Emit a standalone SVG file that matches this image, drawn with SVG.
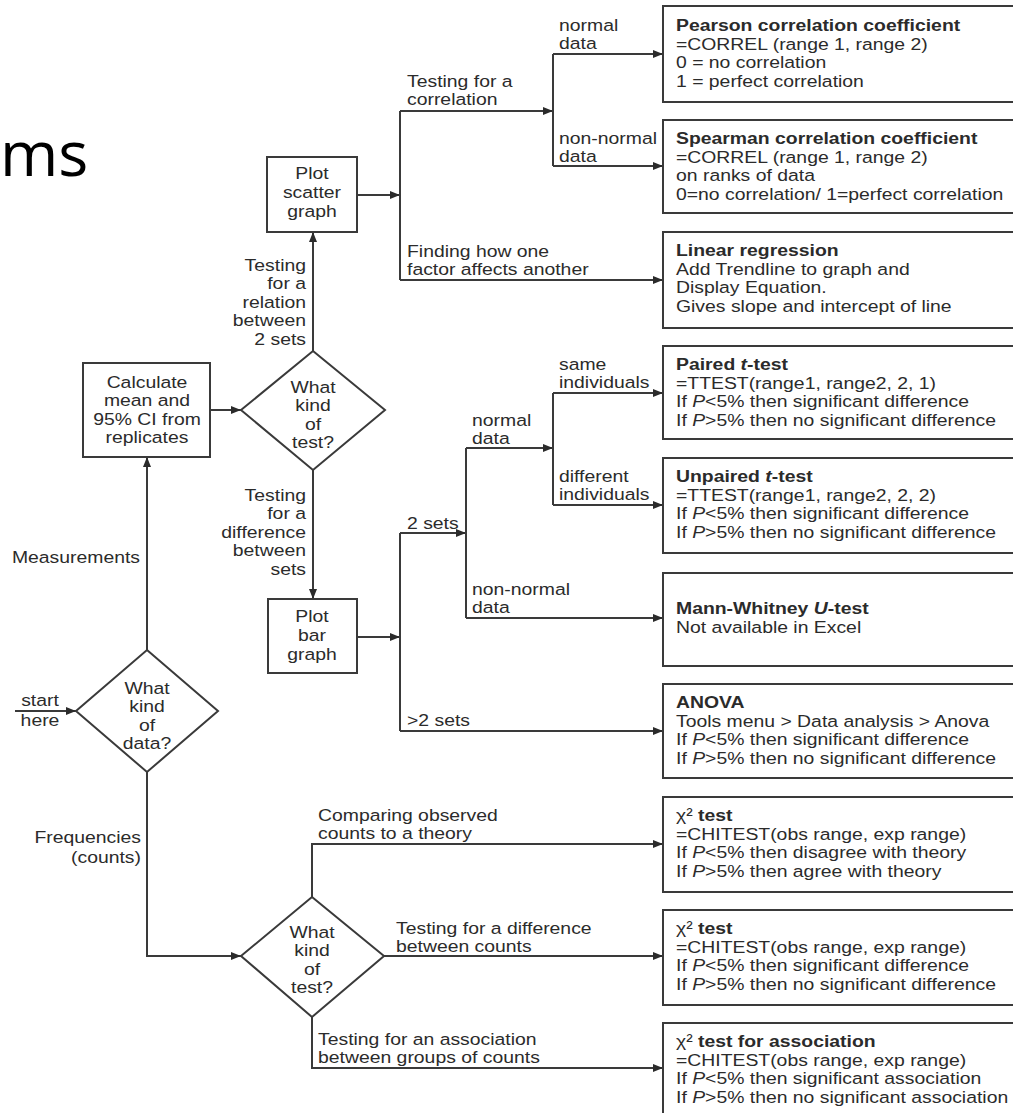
<svg xmlns="http://www.w3.org/2000/svg" width="1013" height="1113" viewBox="0 0 1013 1113">
<style>
.t{font-family:"Liberation Sans",Arial,sans-serif;font-size:17px;fill:#2b2b2b}
.b{font-weight:bold}
.c{text-anchor:middle}
.e{text-anchor:end}
.box{fill:#fff;stroke:#3a3a3a;stroke-width:2}
.ln{fill:none;stroke:#3a3a3a;stroke-width:2}
.ar{fill:none;stroke:#3a3a3a;stroke-width:2;marker-end:url(#ah)}
.title{font-family:"Open Sans","Noto Sans",sans-serif;font-size:63px;fill:#000}
</style>
<defs>
<marker id="ah" markerUnits="userSpaceOnUse" markerWidth="11" markerHeight="8" refX="10" refY="4" orient="auto">
<path d="M0,0 L10,4 L0,8 Z" fill="#2b2b2b"/>
</marker>
</defs>
<rect width="1013" height="1113" fill="#fff"/>
<text class="title" x="0" y="176">ms</text>

<g id="connectors">
<path class="ar" d="M15,711 H76"/>
<path class="ar" d="M147,650 V457"/>
<path class="ar" d="M210,410 H241"/>
<path class="ar" d="M313,351 V232"/>
<path class="ar" d="M313,470 V599"/>
<path class="ar" d="M357,195 H400"/>
<path class="ln" d="M400,111 V280"/>
<path class="ar" d="M400,111 H553"/>
<path class="ln" d="M553,54 V166"/>
<path class="ar" d="M553,54 H663"/>
<path class="ar" d="M553,166 H663"/>
<path class="ar" d="M400,280 H663"/>
<path class="ar" d="M357,637 H400"/>
<path class="ln" d="M400,533 V731"/>
<path class="ar" d="M400,533 H466"/>
<path class="ln" d="M466,448 V618"/>
<path class="ar" d="M466,448 H553"/>
<path class="ln" d="M553,393 V505"/>
<path class="ar" d="M553,393 H663"/>
<path class="ar" d="M553,505 H663"/>
<path class="ar" d="M466,618 H663"/>
<path class="ar" d="M400,731 H663"/>
<path class="ar" d="M147,772 V956 H241"/>
<path class="ar" d="M312,897 V844 H663"/>
<path class="ar" d="M384,956 H663"/>
<path class="ar" d="M312,1017 V1068 H663"/>

<text class="t c" transform="translate(40,706) scale(1.14,1)"><tspan x="0">start</tspan><tspan x="0" dy="20">here</tspan></text>
<text class="t e" transform="translate(140,563) scale(1.14,1)">Measurements</text>
<text class="t e" transform="translate(141,843) scale(1.14,1)"><tspan x="0">Frequencies</tspan><tspan x="0" dy="20">(counts)</tspan></text>
<text class="t e" transform="translate(306,271) scale(1.14,1)"><tspan x="0">Testing</tspan><tspan x="0" dy="18.5">for a</tspan><tspan x="0" dy="18.5">relation</tspan><tspan x="0" dy="18.5">between</tspan><tspan x="0" dy="18.5">2 sets</tspan></text>
<text class="t e" transform="translate(306,501) scale(1.14,1)"><tspan x="0">Testing</tspan><tspan x="0" dy="18.5">for a</tspan><tspan x="0" dy="18.5">difference</tspan><tspan x="0" dy="18.5">between</tspan><tspan x="0" dy="18.5">sets</tspan></text>
<text class="t" transform="translate(407,87) scale(1.14,1)"><tspan x="0">Testing for a</tspan><tspan x="0" dy="18.5">correlation</tspan></text>
<text class="t" transform="translate(559,31) scale(1.14,1)"><tspan x="0">normal</tspan><tspan x="0" dy="18.5">data</tspan></text>
<text class="t" transform="translate(559,144) scale(1.14,1)"><tspan x="0">non-normal</tspan><tspan x="0" dy="18.5">data</tspan></text>
<text class="t" transform="translate(407,257) scale(1.14,1)"><tspan x="0">Finding how one</tspan><tspan x="0" dy="18.5">factor affects another</tspan></text>
<text class="t" transform="translate(559,370) scale(1.14,1)"><tspan x="0">same</tspan><tspan x="0" dy="18.5">individuals</tspan></text>
<text class="t" transform="translate(472,426) scale(1.14,1)"><tspan x="0">normal</tspan><tspan x="0" dy="18.5">data</tspan></text>
<text class="t" transform="translate(559,482) scale(1.14,1)"><tspan x="0">different</tspan><tspan x="0" dy="18.5">individuals</tspan></text>
<text class="t" transform="translate(407,529) scale(1.14,1)">2 sets</text>
<text class="t" transform="translate(472,595) scale(1.14,1)"><tspan x="0">non-normal</tspan><tspan x="0" dy="18.5">data</tspan></text>
<text class="t" transform="translate(407,726) scale(1.14,1)">&gt;2 sets</text>
<text class="t" transform="translate(318,821) scale(1.14,1)"><tspan x="0">Comparing observed</tspan><tspan x="0" dy="18.5">counts to a theory</tspan></text>
<text class="t" transform="translate(396,934) scale(1.14,1)"><tspan x="0">Testing for a difference</tspan><tspan x="0" dy="18.5">between counts</tspan></text>
<text class="t" transform="translate(318,1045) scale(1.14,1)"><tspan x="0">Testing for an association</tspan><tspan x="0" dy="18.5">between groups of counts</tspan></text>
</g>

<g id="n-calc">
<rect class="box" x="83" y="363" width="127" height="94"/>
<text class="t c" transform="translate(147,388) scale(1.14,1)"><tspan x="0">Calculate</tspan><tspan x="0" dy="18.3">mean and</tspan><tspan x="0" dy="18.3">95% CI from</tspan><tspan x="0" dy="18.3">replicates</tspan></text>
</g>
<g id="n-data">
<path class="box" d="M147,650 L218,711 L147,772 L76,711 Z"/>
<text class="t c" transform="translate(147,694) scale(1.14,1)"><tspan x="0">What</tspan><tspan x="0" dy="18.3">kind</tspan><tspan x="0" dy="18.3">of</tspan><tspan x="0" dy="18.3">data?</tspan></text>
</g>
<g id="n-test1">
<path class="box" d="M313,351 L385,410 L313,470 L241,410 Z"/>
<text class="t c" transform="translate(313,393) scale(1.14,1)"><tspan x="0">What</tspan><tspan x="0" dy="18.3">kind</tspan><tspan x="0" dy="18.3">of</tspan><tspan x="0" dy="18.3">test?</tspan></text>
</g>
<g id="n-test2">
<path class="box" d="M312,897 L384,956 L312,1017 L241,956 Z"/>
<text class="t c" transform="translate(312,938) scale(1.14,1)"><tspan x="0">What</tspan><tspan x="0" dy="18.3">kind</tspan><tspan x="0" dy="18.3">of</tspan><tspan x="0" dy="18.3">test?</tspan></text>
</g>
<g id="n-scatter">
<rect class="box" x="267" y="157" width="90" height="75"/>
<text class="t c" transform="translate(312,179) scale(1.14,1)"><tspan x="0">Plot</tspan><tspan x="0" dy="19">scatter</tspan><tspan x="0" dy="19">graph</tspan></text>
</g>
<g id="n-bar">
<rect class="box" x="268" y="599" width="89" height="74"/>
<text class="t c" transform="translate(312,622) scale(1.14,1)"><tspan x="0">Plot</tspan><tspan x="0" dy="19">bar</tspan><tspan x="0" dy="19">graph</tspan></text>
</g>

<g id="n-pearson">
<rect class="box" x="663" y="6" width="360" height="96"/>
<text class="t" transform="translate(676,31) scale(1.14,1)"><tspan x="0" class="b">Pearson correlation coefficient</tspan><tspan x="0" dy="18.7">=CORREL (range 1, range 2)</tspan><tspan x="0" dy="18.7">0 = no correlation</tspan><tspan x="0" dy="18.7">1 = perfect correlation</tspan></text>
</g>
<g id="n-spearman">
<rect class="box" x="663" y="120" width="360" height="93"/>
<text class="t" transform="translate(676,144) scale(1.14,1)"><tspan x="0" class="b">Spearman correlation coefficient</tspan><tspan x="0" dy="18.7">=CORREL (range 1, range 2)</tspan><tspan x="0" dy="18.7">on ranks of data</tspan><tspan x="0" dy="18.7">0=no correlation/ 1=perfect correlation</tspan></text>
</g>
<g id="n-linear">
<rect class="box" x="663" y="232" width="360" height="96"/>
<text class="t" transform="translate(676,256) scale(1.14,1)"><tspan x="0" class="b">Linear regression</tspan><tspan x="0" dy="18.7">Add Trendline to graph and</tspan><tspan x="0" dy="18.7">Display Equation.</tspan><tspan x="0" dy="18.7">Gives slope and intercept of line</tspan></text>
</g>
<g id="n-paired">
<rect class="box" x="663" y="346" width="360" height="93"/>
<text class="t" transform="translate(676,370) scale(1.14,1)"><tspan x="0" class="b">Paired <tspan font-style="italic">t</tspan>-test</tspan><tspan x="0" dy="18.7">=TTEST(range1, range2, 2, 1)</tspan><tspan x="0" dy="18.7">If <tspan font-style="italic">P</tspan>&lt;5% then significant difference</tspan><tspan x="0" dy="18.7">If <tspan font-style="italic">P</tspan>&gt;5% then no significant difference</tspan></text>
</g>
<g id="n-unpaired">
<rect class="box" x="663" y="458" width="360" height="95"/>
<text class="t" transform="translate(676,482) scale(1.14,1)"><tspan x="0" class="b">Unpaired <tspan font-style="italic">t</tspan>-test</tspan><tspan x="0" dy="18.7">=TTEST(range1, range2, 2, 2)</tspan><tspan x="0" dy="18.7">If <tspan font-style="italic">P</tspan>&lt;5% then significant difference</tspan><tspan x="0" dy="18.7">If <tspan font-style="italic">P</tspan>&gt;5% then no significant difference</tspan></text>
</g>
<g id="n-mann">
<rect class="box" x="663" y="573" width="360" height="93"/>
<text class="t" transform="translate(676,614) scale(1.14,1)"><tspan x="0" class="b">Mann-Whitney <tspan font-style="italic">U</tspan>-test</tspan><tspan x="0" dy="18.7">Not available in Excel</tspan></text>
</g>
<g id="n-anova">
<rect class="box" x="663" y="684" width="360" height="94"/>
<text class="t" transform="translate(676,708) scale(1.14,1)"><tspan x="0" class="b">ANOVA</tspan><tspan x="0" dy="18.7">Tools menu &gt; Data analysis &gt; Anova</tspan><tspan x="0" dy="18.7">If <tspan font-style="italic">P</tspan>&lt;5% then significant difference</tspan><tspan x="0" dy="18.7">If <tspan font-style="italic">P</tspan>&gt;5% then no significant difference</tspan></text>
</g>
<g id="n-chi1">
<rect class="box" x="663" y="797" width="360" height="95"/>
<text class="t" transform="translate(676,821) scale(1.14,1)"><tspan x="0" class="b"><tspan font-weight="normal">χ²</tspan> test</tspan><tspan x="0" dy="18.7">=CHITEST(obs range, exp range)</tspan><tspan x="0" dy="18.7">If <tspan font-style="italic">P</tspan>&lt;5% then disagree with theory</tspan><tspan x="0" dy="18.7">If <tspan font-style="italic">P</tspan>&gt;5% then agree with theory</tspan></text>
</g>
<g id="n-chi2">
<rect class="box" x="663" y="910" width="360" height="95"/>
<text class="t" transform="translate(676,934) scale(1.14,1)"><tspan x="0" class="b"><tspan font-weight="normal">χ²</tspan> test</tspan><tspan x="0" dy="18.7">=CHITEST(obs range, exp range)</tspan><tspan x="0" dy="18.7">If <tspan font-style="italic">P</tspan>&lt;5% then significant difference</tspan><tspan x="0" dy="18.7">If <tspan font-style="italic">P</tspan>&gt;5% then no significant difference</tspan></text>
</g>
<g id="n-chi3">
<rect class="box" x="663" y="1023" width="360" height="100"/>
<text class="t" transform="translate(676,1047) scale(1.14,1)"><tspan x="0" class="b"><tspan font-weight="normal">χ²</tspan> test for association</tspan><tspan x="0" dy="18.7">=CHITEST(obs range, exp range)</tspan><tspan x="0" dy="18.7">If <tspan font-style="italic">P</tspan>&lt;5% then significant association</tspan><tspan x="0" dy="18.7">If <tspan font-style="italic">P</tspan>&gt;5% then no significant association</tspan></text>
</g>
</svg>
